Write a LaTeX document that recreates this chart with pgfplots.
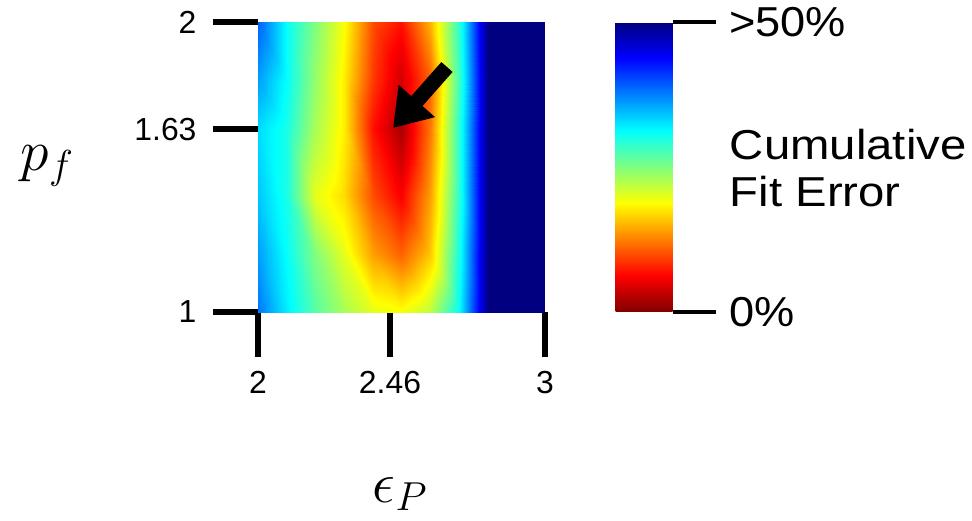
\RequirePackage{fix-cm}
\documentclass[border=0pt]{standalone}
\usepackage{fontspec}
\setmainfont{Liberation Sans}
\usepackage{pgfplots}
\pgfplotsset{compat=1.18}
\usetikzlibrary{arrows.meta}

% cumulative fit error (%) on the (eps_P, p_f) grid
\pgfplotstableread{
x    y     c
2.0  1.0   38
2.1  1.0   32
2.2  1.0   27
2.3  1.0   23
2.4  1.0   20
2.5  1.0   19
2.6  1.0   22
2.7  1.0   31
2.8  1.0   50
2.9  1.0   50
3.0  1.0   50
2.0  1.2   36
2.1  1.2   31
2.2  1.2   25
2.3  1.2   20
2.4  1.2   14
2.5  1.2   11
2.6  1.2   16
2.7  1.2   30
2.8  1.2   50
2.9  1.2   50
3.0  1.2   50
2.0  1.4   34
2.1  1.4   30
2.2  1.4   20
2.3  1.4   17
2.4  1.4   10
2.5  1.4   6
2.6  1.4   14
2.7  1.4   29
2.8  1.4   50
2.9  1.4   50
3.0  1.4   50
2.0  1.63  33
2.1  1.63  30
2.2  1.63  23
2.3  1.63  18
2.4  1.63  7
2.5  1.63  2
2.6  1.63  12
2.7  1.63  29
2.8  1.63  50
2.9  1.63  50
3.0  1.63  50
2.0  1.8   36
2.1  1.8   31
2.2  1.8   24
2.3  1.8   18
2.4  1.8   9
2.5  1.8   4
2.6  1.8   11
2.7  1.8   28
2.8  1.8   50
2.9  1.8   50
3.0  1.8   50
2.0  2.0   39
2.1  2.0   31
2.2  2.0   25
2.3  2.0   19
2.4  2.0   10
2.5  2.0   7
2.6  2.0   15
2.7  2.0   29
2.8  2.0   50
2.9  2.0   50
3.0  2.0   50
}\errtable

\begin{document}
\begin{tikzpicture}
\useasboundingbox (-258bp,-209bp) rectangle (714bp,312bp);
\begin{axis}[
    at={(0,0)}, anchor=south west,
    width=287bp, height=290bp, scale only axis,
    xmin=2, xmax=3, ymin=1, ymax=2,
    xtick={2,2.46,3}, ytick={1,1.63,2},
    tick pos=left, tick align=outside,
    tick style={black, line width=6bp},
    major tick length=45bp,
    axis line style={draw=none},
    /pgf/number format/assume math mode=true,
    ticklabel style={font=\fontsize{32}{32}\selectfont},
    yticklabel style={xshift=-13bp},
    xticklabel style={yshift=-11bp},
    colormap={rjet}{rgb255(0cm)=(128,0,0); rgb255(1cm)=(255,0,0); rgb255(3cm)=(255,255,0); rgb255(5cm)=(0,255,255); rgb255(7cm)=(0,0,255); rgb255(8cm)=(0,0,128)},
    point meta min=0, point meta max=50,
    colorbar right,
    /pgfplots/colorbar/width=57bp,
    colorbar style={
        at={(parent axis.north east)}, anchor=north west, xshift=62bp,
        width=57bp, height=290bp, scale only axis,
        xtick=\empty, ytick={0,50}, yticklabels={0\%,>50\%},
        tick pos=right, tick align=outside, major tick length=43bp,
        tick style={black, line width=4.5bp},
        axis line style={draw=none},
        yticklabel style={font=\fontsize{42}{42}\selectfont, xscale=1.08, xshift=9bp},
    },
]
\addplot[surf, shader=interp, mesh/cols=11, point meta=explicit] table[x=x, y=y, meta=c] {\errtable};
\end{axis}
\draw[line width=15bp, -{Triangle[width=46bp, length=36bp]}] (189bp,245bp) -- (135bp,184bp);
\node[anchor=west, align=left, xscale=1.13, font=\fontsize{42}{48}\selectfont] at (468bp,144bp) {Cumulative\\Fit Error};
\node[font=\fontsize{58}{60}\selectfont] at (-211bp,146bp) {$p_f$};
\node[font=\fontsize{58}{60}\selectfont] at (142bp,-182bp) {$\epsilon_P$};
\end{tikzpicture}
\end{document}
